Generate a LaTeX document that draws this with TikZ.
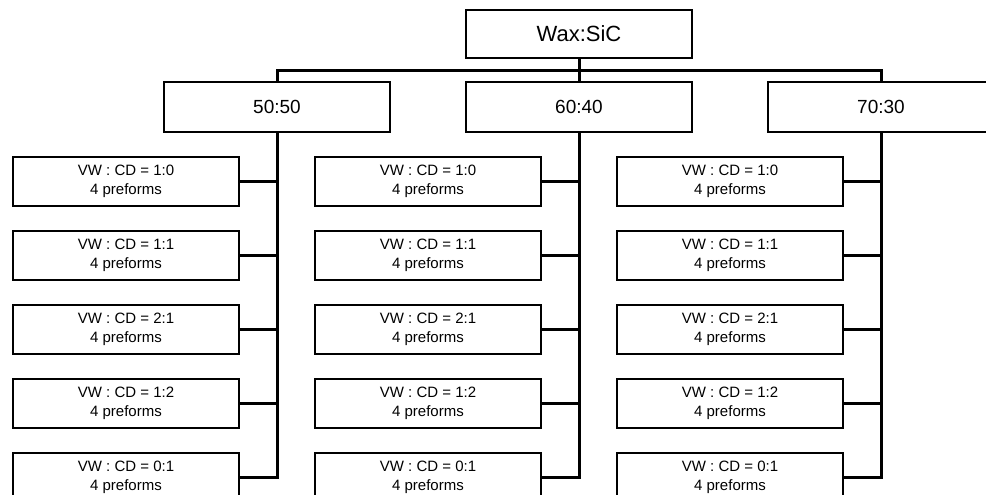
\documentclass[tikz,border=0pt]{standalone}
\usepackage{fontspec}
\setmainfont{Liberation Sans}
\begin{document}
\begin{tikzpicture}[x=1pt,y=-1pt,
  box/.style={draw, line width=1.2pt, minimum width=226pt, inner sep=0pt, align=center, fill=white},
  rootbox/.style={box, minimum height=48pt, font=\fontsize{22}{26}\selectfont},
  midbox/.style={box, minimum height=50pt, font=\fontsize{19}{23}\selectfont},
  leafbox/.style={box, minimum height=49pt, font=\fontsize{15}{19}\selectfont},
  conn/.style={line width=3pt},
  branch/.style={line width=2.6pt}]
\useasboundingbox (0,0) rectangle (986,495);
\node[rootbox] (root) at (579,34) {Wax:SiC};
\coordinate (bar) at (579,71);
\node[midbox] (m1) at (277,107) {50:50};
\node[midbox] (m2) at (579,107) {60:40};
\node[midbox] (m3) at (881,107) {70:30};
\draw[conn] (root.south) -- (m2.north);
\draw[conn] (m1.north) -- (m1.north |- bar) -| (m3.north);
\foreach \c/\x in {1/126,2/428,3/730}{
  \node[leafbox] (l\c1) at (\x,181.5) {VW : CD = 1:0\\4 preforms};
  \node[leafbox] (l\c2) at (\x,255.5) {VW : CD = 1:1\\4 preforms};
  \node[leafbox] (l\c3) at (\x,329.5) {VW : CD = 2:1\\4 preforms};
  \node[leafbox] (l\c4) at (\x,403.5) {VW : CD = 1:2\\4 preforms};
  \node[leafbox] (l\c5) at (\x,477.5) {VW : CD = 0:1\\4 preforms};
  \draw[conn] (m\c.south) |- (l\c5.east);
  \foreach \r in {1,2,3,4}{
    \draw[branch] (l\c\r.east) -- (l\c\r.east -| m\c.south);
  }
}
\end{tikzpicture}
\end{document}
